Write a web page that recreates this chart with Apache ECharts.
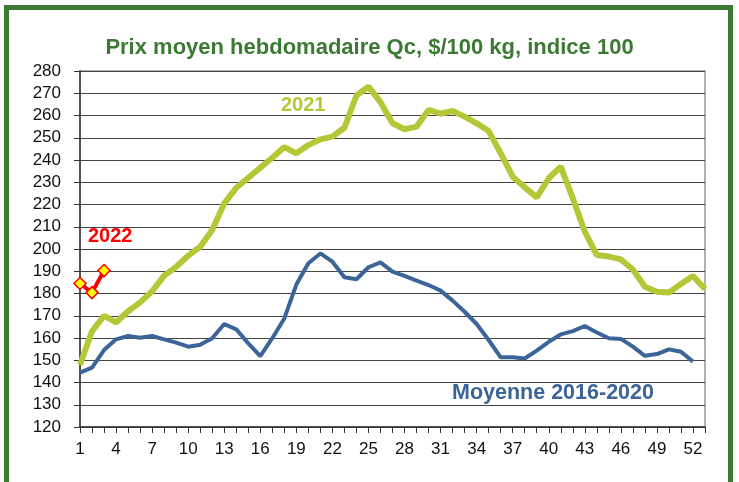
<!DOCTYPE html>
<html>
<head>
<meta charset="utf-8">
<script src="https://cdn.jsdelivr.net/npm/echarts@6/dist/echarts.min.js"></script>
<style>html,body{margin:0;padding:0;background:#fff}#c{width:739px;height:482px}</style>
</head>
<body>
<div id="c"></div>
<script>
const weeks = [];
for (let i = 1; i <= 53; i++) weeks.push(String(i));

const y2021 = [148,163,170,167,172,176,181,188,192,197,201,208.5,220.5,227.5,232,236.5,241,245.8,243,246.7,249.3,250.5,254.5,269,273,266,256.5,253.8,255,262.5,260.8,262,259.5,256.5,253,243,232.5,227.7,223.2,231.8,237,222.8,207.8,197.3,196.6,195.3,190.8,183,180.8,180.4,184.3,187.9,182];
const yAvg = [144.4,146.7,154.6,159.4,160.9,160.1,160.9,159.4,157.9,156.1,157,159.9,166.3,163.9,157.6,151.9,159.9,168.8,184,193.6,198,194.3,187.3,186.4,191.8,194,189.8,187.9,185.8,183.8,181.3,176.8,171.8,166.3,159.1,151.3,151.3,150.8,154.3,158.3,161.6,163.1,165.4,162.5,159.9,159.6,156.1,152,152.8,154.9,153.8,149.4];
const y2022 = [184.5,180.4,190.3];

const titleText = 'Prix moyen hebdomadaire Qc, $/100 kg, indice 100';
const label2021 = '2021';
const label2022 = '2022';
const labelAvg = 'Moyenne 2016-2020';

const GREEN = '#b5c737';
const BLUE = '#3b6598';
const RED = '#ff0000';
const DARKGREEN = '#3c7a34';
const FONT = '"Liberation Sans", Arial, sans-serif';

const chart = echarts.init(document.getElementById('c'), null, {renderer: 'canvas'});
chart.setOption({
  animation: false,
  backgroundColor: '#fff',
  title: {
    text: titleText, left: 'center', top: 32,
    textStyle: {color: DARKGREEN, fontFamily: FONT, fontWeight: 'bold', fontSize: 22}
  },
  grid: {left: 80, right: 34, top: 71, bottom: 55, show: true, borderColor: '#999', borderWidth: 1.5, backgroundColor: 'transparent'},
  xAxis: {
    type: 'category', data: weeks, boundaryGap: false,
    axisLine: {lineStyle: {color: '#333', width: 1.5}},
    axisTick: {show: true, interval: 0, length: 6, lineStyle: {color: '#333'}},
    axisLabel: {interval: 2, margin: 14, color: '#111', fontFamily: FONT, fontSize: 17},
    splitLine: {show: false}
  },
  yAxis: {
    type: 'value', min: 120, max: 280, interval: 10,
    axisLine: {show: true, lineStyle: {color: '#333', width: 1.5}},
    axisTick: {show: true, length: 6, lineStyle: {color: '#333'}},
    axisLabel: {margin: 19, color: '#111', fontFamily: FONT, fontSize: 17},
    splitLine: {show: true, lineStyle: {color: '#444', width: 1.2}}
  },
  series: [
    {name: '2021', type: 'line', data: y2021, symbol: 'none', lineStyle: {color: GREEN, width: 6}, z: 3},
    {name: 'Moyenne 2016-2020', type: 'line', data: yAvg, symbol: 'none', lineStyle: {color: BLUE, width: 4}, z: 3},
    {name: '2022', type: 'line', data: y2022, symbol: 'diamond', symbolSize: 12, showAllSymbol: true, clip: false,
     itemStyle: {color: '#ffff00', borderColor: RED, borderWidth: 1.5},
     lineStyle: {color: RED, width: 4}, z: 4}
  ],
  graphic: [
    {type: 'rect', shape: {x: 6.5, y: 7.5, width: 724, height: 490}, style: {fill: 'none', stroke: DARKGREEN, lineWidth: 5}, z: 10},
    {type: 'text', left: 281, top: 95, style: {text: label2021, fill: GREEN, font: 'bold 20px ' + FONT}, z: 10},
    {type: 'text', left: 88, top: 226, style: {text: label2022, fill: RED, font: 'bold 20px ' + FONT}, z: 10},
    {type: 'text', left: 452, top: 382, style: {text: labelAvg, fill: BLUE, font: 'bold 21.5px ' + FONT}, z: 10}
  ]
});
</script>
</body>
</html>
